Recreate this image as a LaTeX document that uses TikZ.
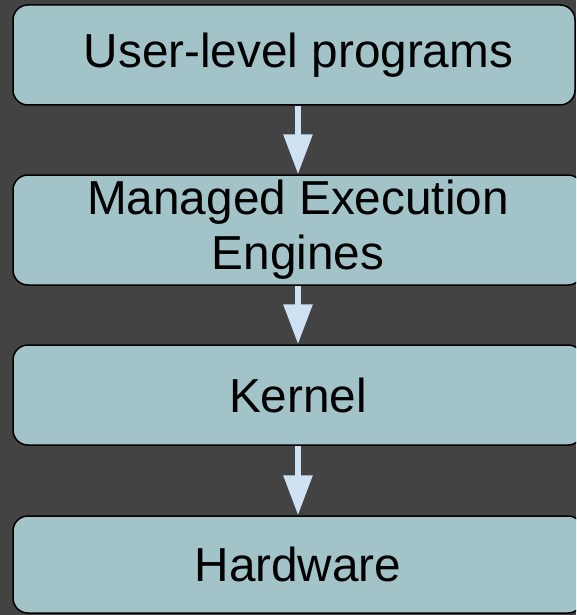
\documentclass[tikz,border=0pt]{standalone}
\usepackage{fontspec}
\setmainfont{Liberation Sans}
\usetikzlibrary{arrows.meta}
\definecolor{bgdark}{HTML}{434343}
\definecolor{boxfill}{HTML}{A2C4C9}
\definecolor{arrowblue}{HTML}{CFE2F3}
\tikzset{
  layerbox/.style={draw=black, line width=1.5pt, fill=boxfill, rounded corners=15pt,
    inner sep=0pt, align=center, font=\fontsize{47.7}{55}\selectfont},
  flowarrow/.style={draw=arrowblue, line width=6pt, -{Triangle[width=28pt,length=40pt]}}
}
\begin{document}
\begin{tikzpicture}[x=1pt,y=-1pt]
\fill[bgdark] (0,0) rectangle (576,615);
\useasboundingbox (0,0) rectangle (576,615);
\clip (0,0) rectangle (576,615);
\node[layerbox, minimum width=562pt, minimum height=100pt] (user) at (294,55) {\hspace*{9pt}User-level programs};
\node[layerbox, minimum width=570pt, minimum height=110pt] (mee) at (298,230) {Managed Execution\\Engines};
\node[layerbox, minimum width=570pt, minimum height=100pt] (kernel) at (298,395) {Kernel};
\node[layerbox, minimum width=570pt, minimum height=97pt] (hw) at (298,564.5) {Hardware};
\draw[flowarrow] (user.south -| mee.north) -- (mee.north);
\draw[flowarrow] (mee.south) -- (kernel.north);
\draw[flowarrow] (kernel.south) -- (hw.north);
\end{tikzpicture}
\end{document}
